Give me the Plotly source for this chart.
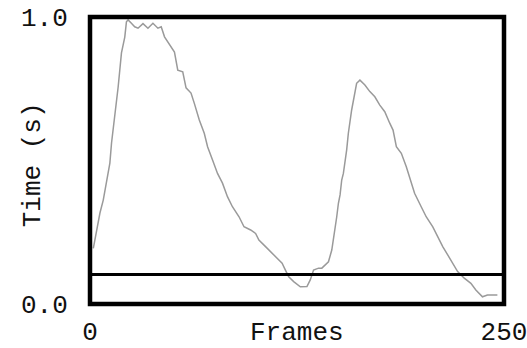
import plotly.graph_objects as go

frames = [2, 4, 6, 8, 10, 12, 13, 15, 17, 19, 21, 22, 23, 25, 27, 29, 32, 35, 38, 41, 43,
          45, 48, 51, 53, 56, 58, 61, 63, 66, 69, 71, 74, 77, 80, 83, 86, 90, 93, 97, 100,
          102, 106, 109, 113, 116, 118, 120, 123, 127, 131, 133, 135, 138, 140, 142, 144,
          146, 147, 148, 149, 150, 151, 152, 153, 155, 156, 158, 161, 163, 166, 169, 172,
          175, 178, 181, 183, 185, 188, 191, 194, 196, 200, 203, 207, 210, 213, 216, 219,
          222, 226, 230, 233, 237, 240, 246]
times = [0.194, 0.258, 0.317, 0.362, 0.422, 0.491, 0.561, 0.652, 0.756, 0.875, 0.930,
         0.983, 0.990, 0.978, 0.966, 0.961, 0.977, 0.961, 0.978, 0.961, 0.966, 0.931,
         0.902, 0.878, 0.815, 0.809, 0.753, 0.735, 0.699, 0.641, 0.595, 0.548, 0.502,
         0.455, 0.421, 0.374, 0.339, 0.304, 0.269, 0.258, 0.246, 0.223, 0.200, 0.182,
         0.159, 0.142, 0.118, 0.095, 0.078, 0.060, 0.061, 0.084, 0.118, 0.125, 0.125,
         0.136, 0.147, 0.188, 0.223, 0.258, 0.304, 0.351, 0.380, 0.432, 0.455, 0.537,
         0.595, 0.676, 0.769, 0.780, 0.763, 0.740, 0.722, 0.693, 0.670, 0.630, 0.606,
         0.548, 0.525, 0.478, 0.421, 0.386, 0.339, 0.304, 0.269, 0.234, 0.200, 0.171,
         0.142, 0.113, 0.090, 0.072, 0.049, 0.025, 0.031, 0.031]
threshold = 0.103
x_range = [0, 250]
y_range = [0, 1]
x_ticks = [0, 250]
x_tick_text = ["0", "250"]
y_ticks = [0, 1]
y_tick_text = ["0.0", "1.0"]

FONT = "Liberation Mono"
FS = 26

fig = go.Figure()
fig.add_trace(go.Scatter(x=frames, y=times, mode="lines",
                         line=dict(color="#9a9a9a", width=1.5), showlegend=False))
fig.add_trace(go.Scatter(x=x_range, y=[threshold, threshold], mode="lines",
                         line=dict(color="black", width=3), showlegend=False))

fig.update_layout(
    width=527, height=348,
    margin=dict(l=89.5, r=23, t=17, b=44),
    paper_bgcolor="white", plot_bgcolor="white",
    font=dict(family=FONT, size=FS, color="#111"),
    xaxis=dict(range=x_range, tickvals=x_ticks, ticktext=x_tick_text,
               showgrid=False, zeroline=False, showline=False, automargin=False,
               ticklabeloverflow="allow",
               ticks="outside", ticklen=4, tickcolor="rgba(0,0,0,0)"),
    yaxis=dict(range=y_range, tickvals=y_ticks, ticktext=y_tick_text,
               showgrid=False, zeroline=False, showline=False, automargin=False,
               ticklabeloverflow="allow",
               ticks="outside", ticklen=16, tickcolor="rgba(0,0,0,0)"),
    shapes=[dict(type="rect", xref="paper", yref="paper", x0=0, x1=1, y0=0, y1=1,
                 line=dict(color="black", width=4.5), layer="above")],
    annotations=[
        dict(text="Frames", xref="paper", yref="paper", x=0.5, y=-0.1,
             xanchor="center", yanchor="middle", showarrow=False,
             font=dict(family=FONT, size=FS, color="#111")),
        dict(text="Time (s)", xref="paper", yref="paper", x=-0.139, y=0.485,
             xanchor="center", yanchor="middle", textangle=-90, showarrow=False,
             font=dict(family=FONT, size=FS, color="#111")),
    ],
)

fig.write_html("out.html")
